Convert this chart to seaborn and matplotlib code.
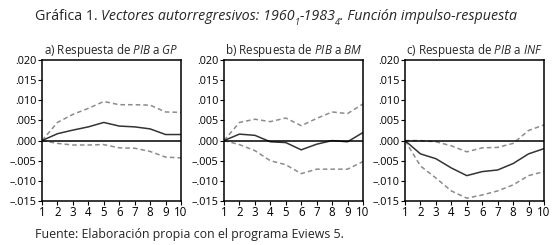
import numpy as np
import pandas as pd
import seaborn as sns
import matplotlib.pyplot as plt
from matplotlib.ticker import FuncFormatter

# data
periods = list(range(1, 11))
panel_titles = [
    r"a) Respuesta de $\mathit{PIB}$ a $\mathit{GP}$",
    r"b) Respuesta de $\mathit{PIB}$ a $\mathit{BM}$",
    r"c) Respuesta de $\mathit{PIB}$ a $\mathit{INF}$",
]
resp_gp = [0, 0.0017, 0.0026, 0.0034, 0.0045, 0.0036, 0.0034, 0.0029, 0.0015, 0.0015]
upper_gp = [0, 0.0045, 0.0065, 0.0080, 0.0097, 0.0089, 0.0089, 0.0088, 0.0071, 0.0070]
lower_gp = [0, -0.0007, -0.0011, -0.0011, -0.0010, -0.0018, -0.0019, -0.0027, -0.0041, -0.0043]

resp_bm = [0, 0.0016, 0.0013, -0.0003, -0.0005, -0.0023, -0.0009, 0.0000, -0.0003, 0.0020]
upper_bm = [0, 0.0045, 0.0053, 0.0047, 0.0056, 0.0037, 0.0055, 0.0071, 0.0067, 0.0091]
lower_bm = [0, -0.0010, -0.0025, -0.0050, -0.0060, -0.0082, -0.0071, -0.0071, -0.0071, -0.0052]

resp_inf = [0, -0.0033, -0.0045, -0.0068, -0.0087, -0.0077, -0.0073, -0.0057, -0.0033, -0.0020]
upper_inf = [0, 0.0000, -0.0003, -0.0013, -0.0028, -0.0018, -0.0017, -0.0007, 0.0025, 0.0039]
lower_inf = [0, -0.0063, -0.0093, -0.0125, -0.0143, -0.0135, -0.0125, -0.0110, -0.0087, -0.0077]

panels = [
    (resp_gp, upper_gp, lower_gp),
    (resp_bm, upper_bm, lower_bm),
    (resp_inf, upper_inf, lower_inf),
]
yticks = [-0.015, -0.010, -0.005, 0.000, 0.005, 0.010, 0.015, 0.020]

# title pieces: (text, italic, subscript)
title_parts = [
    ("Gráfica 1. ", False, False),
    ("Vectores autorregresivos: 1960", True, False),
    ("1", True, True),
    ("-1983", True, False),
    ("4", True, True),
    (". Función impulso-respuesta", True, False),
]
footer = "Fuente: Elaboración propia con el programa Eviews 5."

sns.set_style("ticks")
plt.rcParams["font.family"] = ["Open Sans", "DejaVu Sans"]
plt.rcParams["mathtext.fontset"] = "custom"
plt.rcParams["mathtext.rm"] = "Open Sans"
plt.rcParams["mathtext.it"] = "Open Sans:italic"


def fmt(v, pos):
    s = f"{abs(v):.3f}".lstrip("0")
    return ("\u2013" + s) if v < -1e-9 else s


fig = plt.figure(figsize=(5.58, 2.45), dpi=100)
lefts = [42, 224, 405]
for i, (resp, up, lo) in enumerate(panels):
    ax = fig.add_axes([lefts[i] / 558, 44 / 245, 139 / 558, 141 / 245])
    df = pd.DataFrame({
        "periodo": periods * 3,
        "valor": resp + up + lo,
        "serie": ["resp"] * 10 + ["up"] * 10 + ["lo"] * 10,
    })
    sns.lineplot(data=df[df.serie == "up"], x="periodo", y="valor", ax=ax,
                 color="#8c8c8c", linestyle=(0, (3, 2)), linewidth=1.1)
    sns.lineplot(data=df[df.serie == "lo"], x="periodo", y="valor", ax=ax,
                 color="#8c8c8c", linestyle=(0, (3, 2)), linewidth=1.1)
    sns.lineplot(data=df[df.serie == "resp"], x="periodo", y="valor", ax=ax,
                 color="#333333", linewidth=1.1)
    ax.axhline(0, color="black", linewidth=1.1)
    ax.set_xlim(1, 10)
    ax.set_ylim(-0.015, 0.020)
    ax.set_xticks(periods)
    ax.set_yticks(yticks)
    ax.yaxis.set_major_formatter(FuncFormatter(fmt))
    ax.set_xlabel("")
    ax.set_ylabel("")
    ax.tick_params(axis="both", labelsize=7.8, length=3, width=0.8, pad=1,
                   color="black", labelcolor="black")
    ax.tick_params(axis="x", labelsize=8.3, pad=0.5)
    for sp in ax.spines.values():
        sp.set_visible(True)
        sp.set_color("black")
        sp.set_linewidth(1.1)
    ax.set_title(panel_titles[i], fontsize=8.4, pad=4)

# title built from pieces so the subscripts sit right
tax = fig.add_axes([0, 0, 1, 1])
tax.axis("off")
prev = tax.text(35 / 558, 1 - 24 / 245, title_parts[0][0], fontsize=10.3,
                transform=fig.transFigure, va="bottom", ha="left")
for txt, ital, sub in title_parts[1:]:
    prev = tax.annotate(txt, xy=(1, 0), xycoords=prev,
                        xytext=(-0.3, -2.2) if sub else (0, 0),
                        textcoords="offset points",
                        fontsize=6.5 if sub else 10.3,
                        fontstyle="italic" if ital else "normal",
                        va="bottom", ha="left")
    if sub:
        prev = tax.annotate("", xy=(1, 0), xycoords=prev,
                            xytext=(0, 2.2), textcoords="offset points",
                            fontsize=10.3, va="bottom", ha="left")

fig.text(35 / 558, 1 - 234 / 245, footer, fontsize=8.9, va="center", ha="left")

fig.savefig("out.png", dpi=100)
